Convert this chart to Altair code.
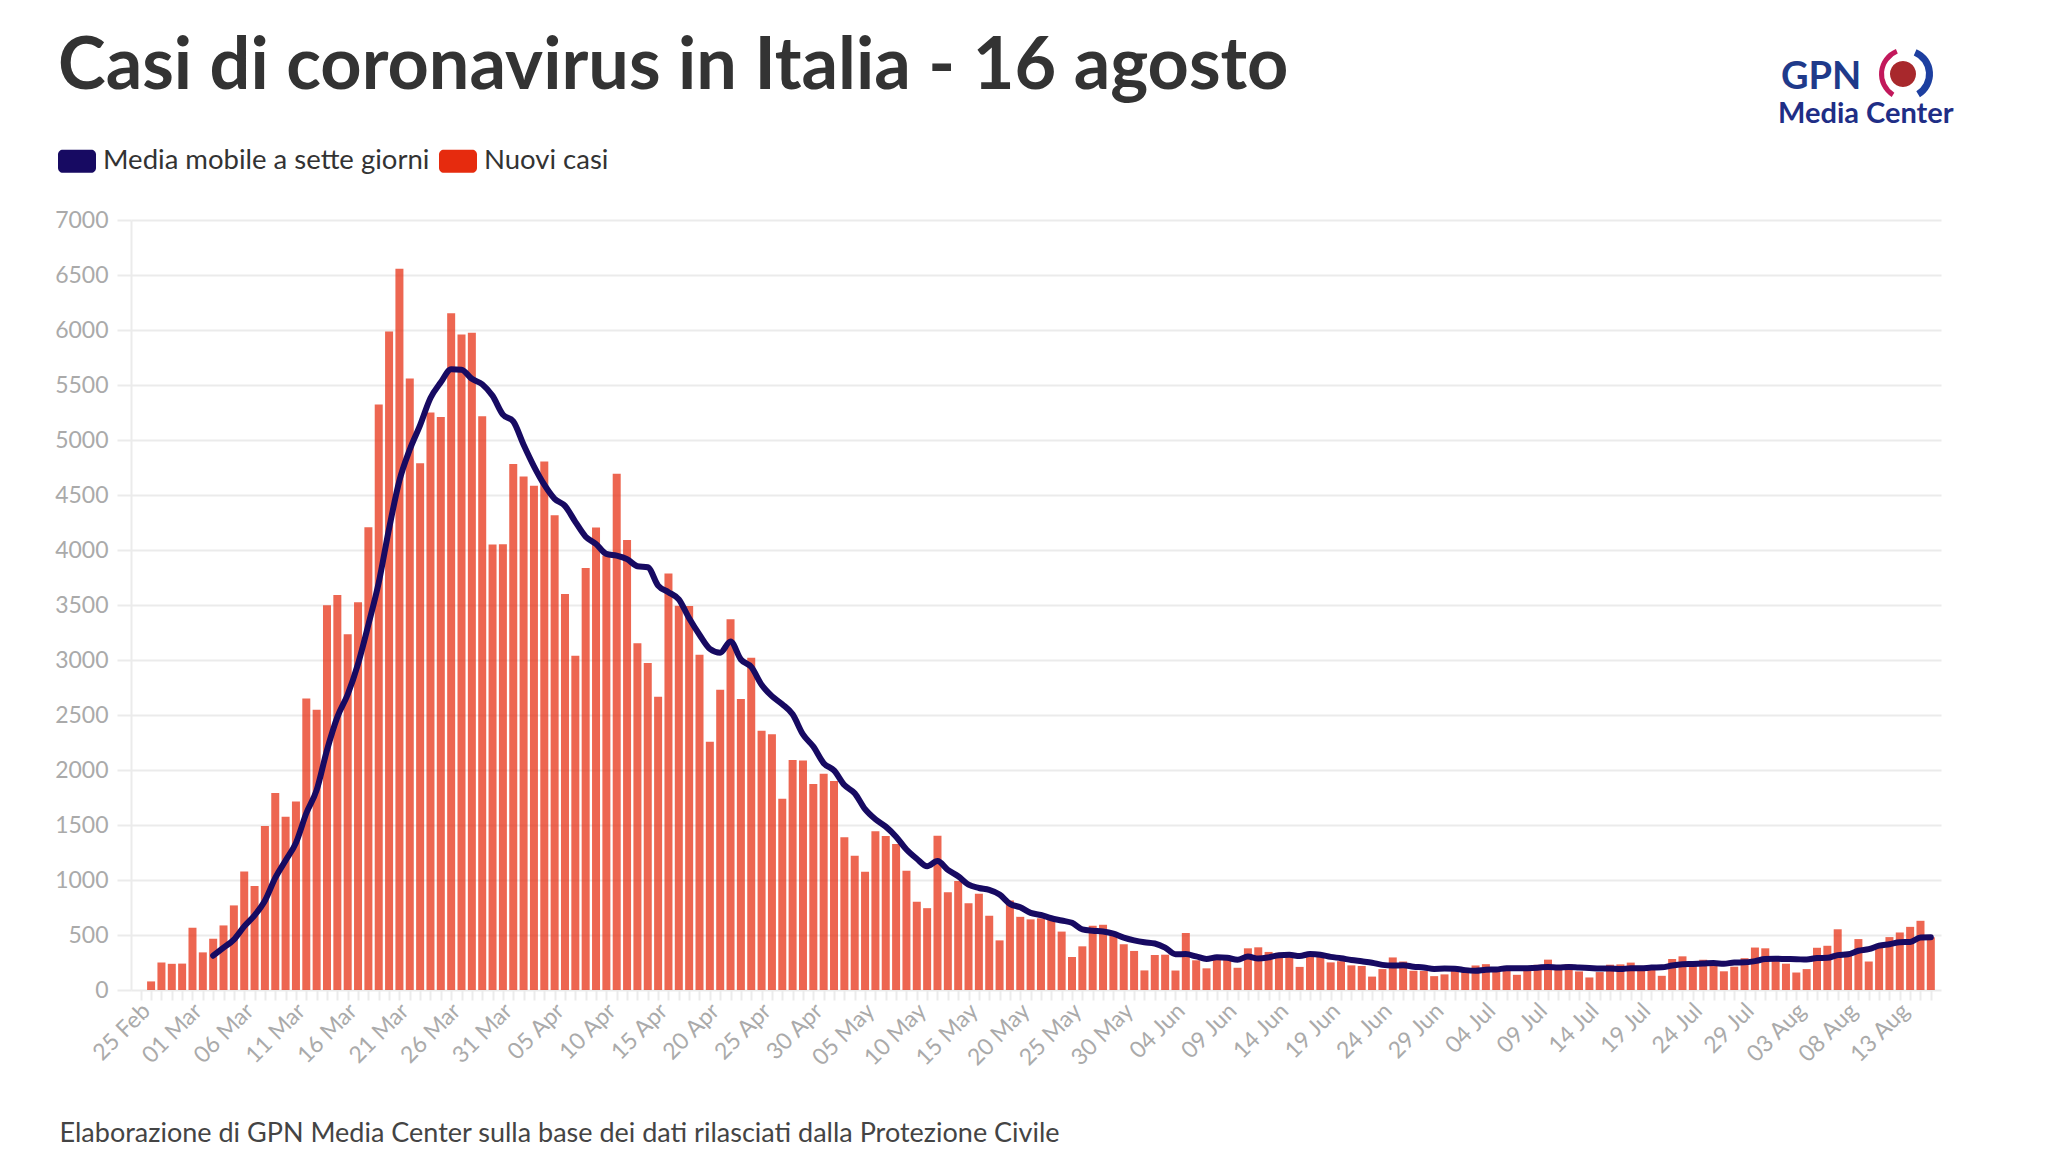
import altair as alt
import pandas as pd

# ---- data ----
first_day = "2020-02-24"
nuovi_casi = [
    None, 78, 250, 238, 240, 566, 342, 466, 587, 769,            # 24 Feb - 04 Mar
    1077, 945, 1492, 1792, 1576, 1713, 2651, 2547, 3497, 3590,  # 05 Mar - 14 Mar
    3233, 3526, 4207, 5322, 5986, 6557, 5560, 4789, 5249, 5210,  # 15 Mar - 24 Mar
    6153, 5959, 5974, 5217, 4050, 4053, 4782, 4668, 4585, 4805,  # 25 Mar - 03 Apr
    4316, 3599, 3039, 3836, 4204, 3951, 4694, 4092, 3153, 2972,  # 04 Apr - 13 Apr
    2667, 3786, 3493, 3491, 3047, 2256, 2729, 3370, 2646, 3021,  # 14 Apr - 23 Apr
    2357, 2324, 1739, 2091, 2086, 1872, 1965, 1900, 1389, 1221,  # 24 Apr - 03 May
    1075, 1444, 1401, 1327, 1083, 802, 744, 1402, 888, 992,      # 04 May - 13 May
    789, 875, 675, 451, 813, 665, 642, 652, 669, 531,            # 14 May - 23 May
    300, 397, 584, 593, 516, 416, 355, 178, 318, 321,            # 24 May - 02 Jun
    177, 518, 270, 197, 280, 283, 202, 379, 388, 346,            # 03 Jun - 12 Jun
    338, 301, 210, 329, 333, 251, 262, 224, 218, 122,            # 13 Jun - 22 Jun
    190, 296, 259, 175, 174, 126, 142, 187, 201, 223,            # 23 Jun - 02 Jul
    235, 192, 208, 138, 193, 229, 276, 188, 234, 169,            # 03 Jul - 12 Jul
    114, 163, 230, 233, 249, 219, 218, 129, 282, 306,            # 13 Jul - 22 Jul
    252, 275, 255, 170, 212, 289, 386, 379, 295, 239,            # 23 Jul - 01 Aug
    159, 190, 384, 402, 552, 347, 463, 259, 412, 481,            # 02 Aug - 11 Aug
    523, 574, 629, 479,                                          # 12 Aug - 15 Aug
]
series_names = ["Media mobile a sette giorni", "Nuovi casi"]
y_ticks = list(range(0, 7001, 500))

title_text = "Casi di coronavirus in Italia - 16 agosto"
source_text = "Elaborazione di GPN Media Center sulla base dei dati rilasciati dalla Protezione Civile"
logo_top = ["GPN"]
logo_bottom = ["Media Center"]

dates = pd.date_range(first_day, periods=len(nuovi_casi), freq="D")
df = pd.DataFrame({"data": dates.strftime("%Y-%m-%d"), "casi": nuovi_casi})
tick_values = [int(d.tz_localize("UTC").timestamp() * 1000) for d in dates]

# ---- style ----
NAVY = "#170a62"
RED = "#e62b0e"
GRID = "#ebebeb"
LABEL = "#aaaaaa"
FONT = "Lato"
W, H = 1810, 770

x_scale = alt.Scale(
    type="utc",
    domain=[alt.DateTime(year=2020, month=2, date=23, hours=13, utc=True),
            alt.DateTime(year=2020, month=8, date=15, hours=12, utc=True)],
)
y_scale = alt.Scale(domain=[0, 7000], nice=False)
color_scale = alt.Scale(domain=series_names, range=[NAVY, RED])

legend_path = ("M-0.75,-0.6H0.75A0.25,0.25,0,0,1,1,-0.35V0.35A0.25,0.25,0,0,1,0.75,0.6"
               "H-0.75A0.25,0.25,0,0,1,-1,0.35V-0.35A0.25,0.25,0,0,1,-0.75,-0.6Z")

x_axis = alt.Axis(
    values=tick_values,
    labelExpr="((datum.value - utc(2020,1,25)) % (5*864e5)) == 0 ? utcFormat(datum.value, '%d %b') : ''",
    labelAngle=315, labelAlign="right", labelBaseline="alphabetic",
    labelOverlap=False, labelFlush=False, labelFont=FONT, labelFontSize=23,
    labelColor=LABEL, labelPadding=12,
    tickSize=10, tickWidth=2, tickColor=GRID, domain=False, grid=False,
    title=source_text, titleX=-72, titleY=143, titleAlign="left", titleBaseline="middle",
    titleFont=FONT, titleFontSize=27, titleFontWeight="normal", titleColor="#444444",
)
y_axis = alt.Axis(
    values=y_ticks, format="d", title=None, labelFont=FONT, labelFontSize=23, labelColor=LABEL,
    labelPadding=9, tickSize=14, tickWidth=2, tickColor=GRID,
    domainColor=GRID, domainWidth=2, gridColor=GRID, gridWidth=2,
)

base = alt.Chart(df)

bars = base.transform_calculate(serie="'Nuovi casi'").mark_bar(
    size=8, fillOpacity=0.72
).encode(
    x=alt.X("data:T", scale=x_scale, axis=x_axis),
    y=alt.Y("casi:Q", scale=y_scale, axis=y_axis),
    color=alt.Color(
        "serie:N", scale=color_scale,
        legend=alt.Legend(
            orient="none", legendX=-73, legendY=-78, direction="horizontal",
            title=None, padding=0, labelFont=FONT, labelFontSize=27.5, labelColor="#333333",
            symbolType=legend_path, symbolSize=1444, symbolStrokeWidth=0, symbolOpacity=1,
            labelOffset=7, columnPadding=9, labelLimit=0,
        ),
    ),
)

line = base.transform_window(
    media="mean(casi)", n="valid(casi)", frame=[-6, 0], sort=[alt.SortField("data")]
).transform_filter("datum.n == 7").transform_calculate(
    serie="'Media mobile a sette giorni'"
).mark_line(strokeWidth=6, interpolate="monotone", strokeCap="round", strokeJoin="round").encode(
    x=alt.X("data:T", scale=x_scale, axis=x_axis),
    y=alt.Y("media:Q", scale=y_scale, axis=y_axis),
    color=alt.Color("serie:N", scale=color_scale, legend=None),
)

logo_df = pd.DataFrame({"t": logo_top})
logo1 = alt.Chart(logo_df).mark_text(
    align="left", baseline="alphabetic", font=FONT, fontSize=38, fontWeight="bold", color="#1f3a8a"
).encode(x=alt.value(1650), y=alt.value(-131), text="t:N")

logo2 = alt.Chart(pd.DataFrame({"t": logo_bottom})).mark_text(
    align="left", baseline="alphabetic", font=FONT, fontSize=29, fontWeight="bold", color="#1f2e86"
).encode(x=alt.value(1647), y=alt.value(-97), text="t:N")

# globe of the logo (decoration)
swoosh = alt.Chart(logo_df).mark_arc(
    theta=3.7, theta2=5.9, innerRadius=22, outerRadius=27, color="#c2185b"
).encode(x=alt.value(1775), y=alt.value(-146))
globe_blue = alt.Chart(logo_df).mark_arc(
    theta=0.4, theta2=2.6, innerRadius=20, outerRadius=27, color="#1d3fa0"
).encode(x=alt.value(1775), y=alt.value(-146))
globe_red = alt.Chart(logo_df).mark_arc(
    theta=0, theta2=6.283, outerRadius=13, color="#a8282c"
).encode(x=alt.value(1772), y=alt.value(-146))

chart = alt.layer(bars, line, logo1, logo2, swoosh, globe_blue, globe_red).properties(
    width=W, height=H,
    title=alt.TitleParams(
        title_text, anchor="start", frame="group", dx=-73, dy=112, offset=0,
        font=FONT, fontSize=72, fontWeight="bold", color="#333333", baseline="alphabetic",
    ),
    autosize=alt.AutoSizeParams(type="none"),
    padding={"left": 123, "top": 212, "right": 99, "bottom": 173},
    background="white",
).configure_view(stroke=None)

chart.save("out.html", embed_options={"renderer": "svg", "actions": False})
